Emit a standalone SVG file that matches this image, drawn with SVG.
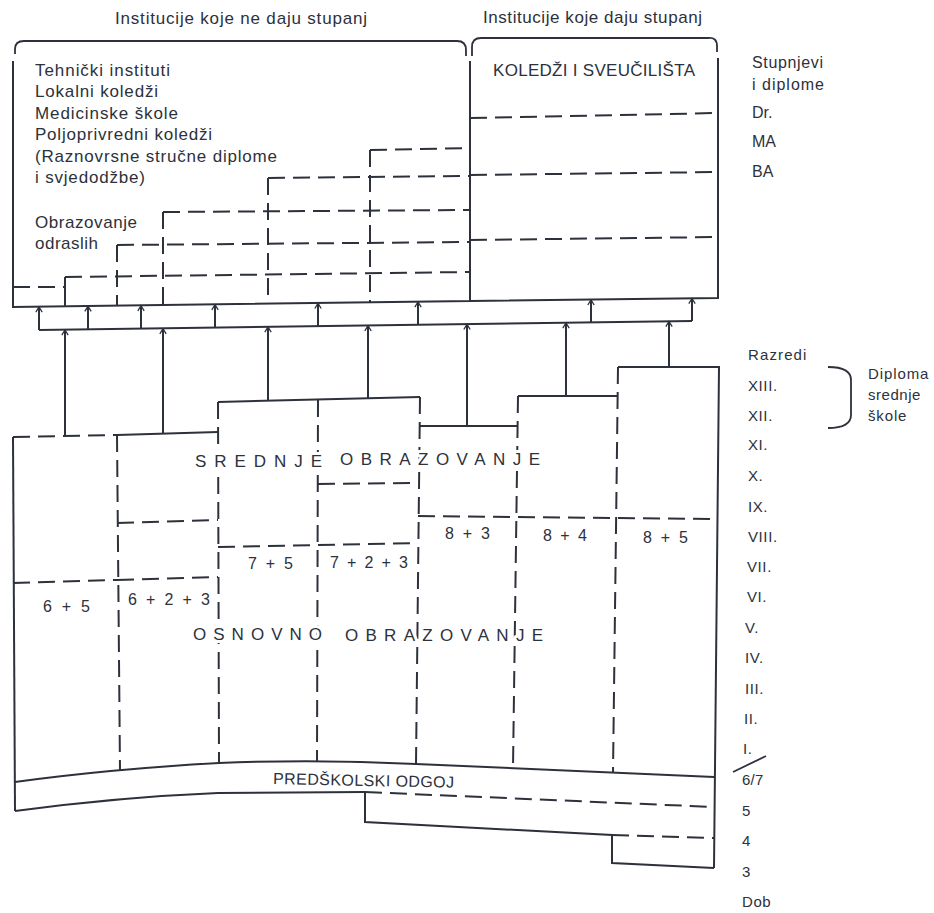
<svg xmlns="http://www.w3.org/2000/svg" width="934" height="913" viewBox="0 0 934 913">
<defs>
<style>
.ln{fill:none;stroke:#2d313b;stroke-width:2}
.th{fill:none;stroke:#2d313b;stroke-width:1.8}
.ds{stroke-dasharray:17 8}
.t{font-family:"Liberation Sans",Arial,sans-serif;fill:#2d313b}
.h{paint-order:stroke;stroke:#fff;stroke-width:6;stroke-linejoin:round}
.f17{font-size:17px}
.f16{font-size:16px}
.f15{font-size:15px;letter-spacing:0.6px}
</style>
<marker id="ah" viewBox="0 0 10 10" refX="8.5" refY="5" markerWidth="8" markerHeight="8" markerUnits="userSpaceOnUse" orient="auto">
<path d="M2,1 L8.5,5 L2,9" fill="none" stroke="#2d313b" stroke-width="1.6"/>
</marker>
</defs>
<rect width="934" height="913" fill="#fff"/>

<g id="title-nondegree">
<text class="t f17" x="115" y="24" textLength="252" lengthAdjust="spacing">Institucije koje ne daju stupanj</text>
<path class="th" d="M15,54 V49 Q15,41 24,41 H457 Q466,41 466,50 V56"/>
</g>
<g id="title-degree">
<text class="t f17" x="483" y="23" textLength="219" lengthAdjust="spacing">Institucije koje daju stupanj</text>
<path class="th" d="M472,56 V47 Q472,38 481,38 H708 Q717,37 717,46 V52"/>
</g>

<g id="box-nondegree">
<path class="ln" d="M13,61 V307 L470,301 V61"/>
<text class="t f17" x="35" y="76" textLength="135" lengthAdjust="spacing">Tehnički instituti</text>
<text class="t f17" x="35" y="97" textLength="123" lengthAdjust="spacing">Lokalni koledži</text>
<text class="t f17" x="35" y="119" textLength="143" lengthAdjust="spacing">Medicinske škole</text>
<text class="t f17" x="35" y="140" textLength="177" lengthAdjust="spacing">Poljoprivredni koledži</text>
<text class="t f17" x="35" y="162" textLength="242" lengthAdjust="spacing">(Raznovrsne stručne diplome</text>
<text class="t f17" x="35" y="183" textLength="110" lengthAdjust="spacing">i svjedodžbe)</text>
<text class="t f17" x="35" y="228" textLength="102" lengthAdjust="spacing">Obrazovanje</text>
<text class="t f17" x="35" y="249" textLength="63" lengthAdjust="spacing">odraslih</text>
<g id="adult-steps">
<path class="ln ds" d="M370,150 L470,148"/>
<path class="ln ds" d="M370,150 V302"/>
<path class="ln ds" d="M268,178 L470,176"/>
<path class="ln ds" d="M268,178 V303"/>
<path class="ln ds" d="M163,212 L470,210"/>
<path class="ln ds" d="M163,212 V304"/>
<path class="ln ds" d="M117,245 L470,242"/>
<path class="ln ds" d="M117,245 V305"/>
<path class="ln ds" d="M65,277 L470,272"/>
<path class="ln" d="M65,277 V306"/>
<path class="ln ds" d="M13,287 H65"/>
</g>
</g>

<g id="box-degree">
<path class="ln" d="M470,301 L718,298 V58"/>
<text class="t f17" x="493" y="76" textLength="202" lengthAdjust="spacing">KOLEDŽI I SVEUČILIŠTA</text>
<path class="ln ds" d="M470,118 L718,113"/>
<path class="ln ds" d="M470,175 L718,172"/>
<path class="ln ds" d="M470,240 L718,237"/>
</g>

<g id="degree-labels">
<text class="t f16" x="752" y="68" textLength="71" lengthAdjust="spacing">Stupnjevi</text>
<text class="t f16" x="752" y="90" textLength="72" lengthAdjust="spacing">i diplome</text>
<text class="t f16" x="752" y="118">Dr.</text>
<text class="t f16" x="752" y="147">MA</text>
<text class="t f16" x="752" y="177">BA</text>
</g>

<g id="connectors">
<path class="ln" d="M39,330 L692,321"/>
<g marker-end="url(#ah)">
<path class="ln" d="M39,330 V307"/>
<path class="ln" d="M88,329.3 V306.2"/>
<path class="ln" d="M141,328.6 V305.6"/>
<path class="ln" d="M215,327.6 V304.6"/>
<path class="ln" d="M318,326.2 V303.3"/>
<path class="ln" d="M418,324.8 V302"/>
<path class="ln" d="M591,322.4 V299.8"/>
<path class="ln" d="M692,321 V298.5"/>
<path class="ln" d="M65,435 V330"/>
<path class="ln" d="M163,433 V328.6"/>
<path class="ln" d="M268,400 V327"/>
<path class="ln" d="M368,398 V325.7"/>
<path class="ln" d="M467,426 V324.3"/>
<path class="ln" d="M566,396 V322.9"/>
<path class="ln" d="M669,367 V321.5"/>
</g>
</g>

<g id="school-blocks">
<path class="ln" d="M13,437 L15,811"/>
<path class="ln ds" d="M13,437 L117,435"/>
<path class="ln" d="M117,435 L218,432"/>
<path class="ln" d="M218,402 L420,397"/>
<path class="ln" d="M420,426 H518"/>
<path class="ln" d="M518,396 H618"/>
<path class="ln" d="M618,367 H719 L714,868"/>
<path class="ln ds" d="M117,435 L120,770"/>
<path class="ln ds" d="M218,402 L219,763"/>
<path class="ln ds" d="M318,400 L317,762"/>
<path class="ln ds" d="M420,397 L416,764"/>
<path class="ln ds" d="M518,396 L513,768"/>
<path class="ln ds" d="M618,367 L613,773"/>
<path class="ln ds" d="M13,583 L117,580"/>
<path class="ln ds" d="M117,523 L218,520"/>
<path class="ln ds" d="M117,580 L218,577"/>
<path class="ln ds" d="M218,547 L418,543"/>
<path class="ln ds" d="M318,484 L418,483"/>
<path class="ln ds" d="M418,516 L716,519"/>
</g>

<g id="school-labels">
<text class="t f17 h" x="195" y="467" textLength="127" lengthAdjust="spacing">SREDNJE</text>
<text class="t f17 h" x="340" y="465" textLength="200" lengthAdjust="spacing">OBRAZOVANJE</text>
<text class="t f17 h" x="193" y="640" textLength="129" lengthAdjust="spacing">OSNOVNO</text>
<text class="t f17 h" x="345" y="641" textLength="198" lengthAdjust="spacing">OBRAZOVANJE</text>
<text class="t f16" x="43" y="612" textLength="47" lengthAdjust="spacing">6 + 5</text>
<text class="t f16" x="128" y="605" textLength="82" lengthAdjust="spacing">6 + 2 + 3</text>
<text class="t f16" x="248" y="569" textLength="45" lengthAdjust="spacing">7 + 5</text>
<text class="t f16" x="330" y="568" textLength="78" lengthAdjust="spacing">7 + 2 + 3</text>
<text class="t f16" x="445" y="539" textLength="45" lengthAdjust="spacing">8 + 3</text>
<text class="t f16" x="543" y="541" textLength="44" lengthAdjust="spacing">8 + 4</text>
<text class="t f16" x="643" y="543" textLength="45" lengthAdjust="spacing">8 + 5</text>
</g>

<g id="preschool">
<path class="ln" d="M15,782 Q110,769 219,763 Q317,759 416,764 L714,777"/>
<path class="ln" d="M15,811 Q120,797 218,793 L365,792"/>
<path class="ln ds" d="M365,792 L714,807"/>
<path class="ln" d="M365,792 V822 L612,835 V863 L714,868"/>
<path class="ln ds" d="M612,835 L714,838"/>
<text class="t f16" x="273" y="784" textLength="181" lengthAdjust="spacing" transform="rotate(1.2 273 784)">PREDŠKOLSKI ODGOJ</text>
</g>

<g id="grade-labels">
<text class="t f15" x="748" y="360" textLength="59" lengthAdjust="spacing">Razredi</text>
<text class="t f15" x="748" y="391">XIII.</text>
<text class="t f15" x="748" y="421">XII.</text>
<text class="t f15" x="748" y="450">XI.</text>
<text class="t f15" x="748" y="481">X.</text>
<text class="t f15" x="748" y="512">IX.</text>
<text class="t f15" x="748" y="542">VIII.</text>
<text class="t f15" x="747" y="572">VII.</text>
<text class="t f15" x="747" y="602">VI.</text>
<text class="t f15" x="745" y="633">V.</text>
<text class="t f15" x="745" y="663">IV.</text>
<text class="t f15" x="745" y="694">III.</text>
<text class="t f15" x="744" y="724">II.</text>
<text class="t f15" x="743" y="754">I.</text>
<path class="th" d="M733,772 L766,756"/>
<text class="t f15" x="742" y="785" textLength="22" lengthAdjust="spacing">6/7</text>
<text class="t f15" x="742" y="816">5</text>
<text class="t f15" x="742" y="846">4</text>
<text class="t f15" x="742" y="877">3</text>
<text class="t f15" x="742" y="907">Dob</text>
</g>

<g id="diploma-brace">
<path class="th" d="M828,367 Q851,367 851,380 V415 Q851,428 828,428"/>
<text class="t f15" x="868" y="379" textLength="61" lengthAdjust="spacing">Diploma</text>
<text class="t f15" x="868" y="400" textLength="53" lengthAdjust="spacing">srednje</text>
<text class="t f15" x="868" y="421" textLength="39" lengthAdjust="spacing">škole</text>
</g>
</svg>
